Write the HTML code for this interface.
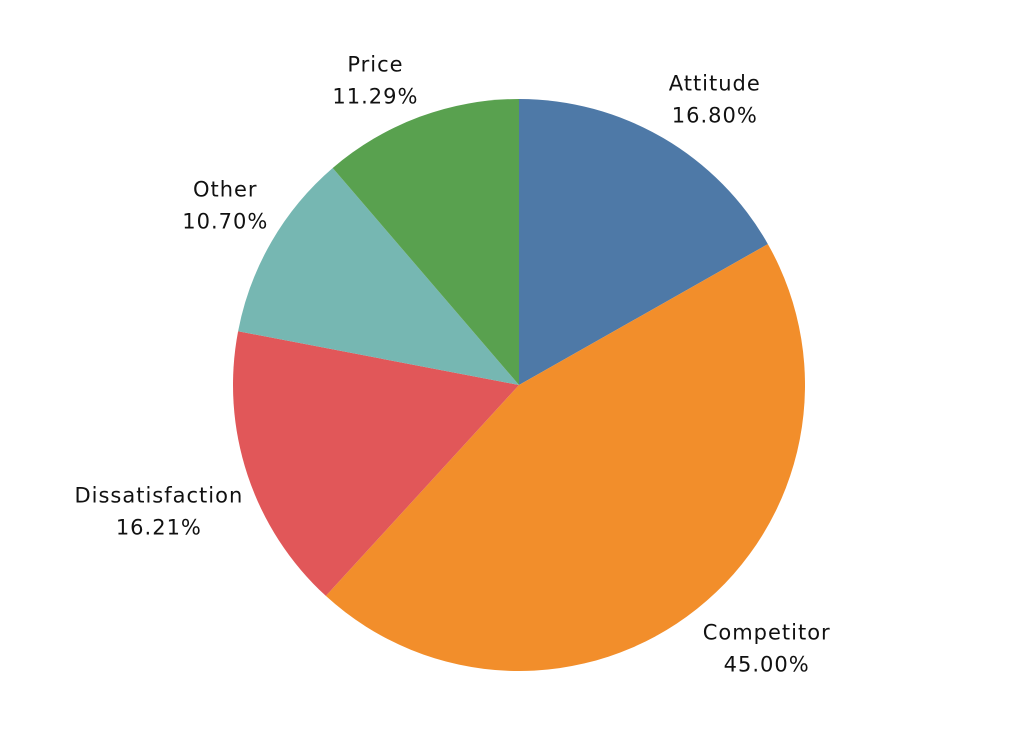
<!DOCTYPE html>
<html><head><meta charset="utf-8"><style>
body{margin:0;background:#fff;width:1012px;height:730px;overflow:hidden}
text{font-family:"DejaVu Sans",sans-serif;font-size:21px;letter-spacing:1px;fill:#111}
</style></head><body>
<svg width="1012" height="730">
<g id="slices"></g><g id="labels"></g>
</svg>
<script>
const categories=["Attitude","Competitor","Dissatisfaction","Other","Price"];
const values=[16.80,45.00,16.21,10.70,11.29];
const colors=["#4e79a7","#f28e2b","#e15759","#76b7b2","#59a14f"];
const nudgeX=[5,7,25,24,-16];
const nudgeY=[7,-17,9,-13,14];
const cx=519,cy=385,R=286;
const total=values.reduce((a,b)=>a+b,0);
const ns="http://www.w3.org/2000/svg";
const gs=document.getElementById('slices'),gl=document.getElementById('labels');
function pt(a,r){return [cx+Math.sin(a)*r,cy-Math.cos(a)*r];}
let acc=0;
values.forEach((v,i)=>{
  const a0=acc/total*2*Math.PI;acc+=v;const a1=acc/total*2*Math.PI;
  const p0=pt(a0,R),p1=pt(a1,R);
  const p=document.createElementNS(ns,'path');
  p.setAttribute('d',`M${cx},${cy}L${p0[0]},${p0[1]}A${R},${R} 0 ${a1-a0>Math.PI?1:0} 1 ${p1[0]},${p1[1]}Z`);
  p.setAttribute('fill',colors[i]);
  
  
  gs.appendChild(p);
  const am=(a0+a1)/2;const lp=pt(am,R+62);
  const tw=categories[i].length*11;
  const x=lp[0]+Math.sin(am)*tw*0.35+nudgeX[i], y=lp[1]+8+nudgeY[i];
  const t=document.createElementNS(ns,'text');
  t.setAttribute('x',x);t.setAttribute('y',y-16+7);t.setAttribute('text-anchor','middle');
  
  
  t.textContent=categories[i];
  gl.appendChild(t);
  const t2=document.createElementNS(ns,'text');
  t2.setAttribute('x',x);t2.setAttribute('y',y+16+7);t2.setAttribute('text-anchor','middle');
  
  
  t2.textContent=v.toFixed(2)+'%';
  gl.appendChild(t2);
});
</script>
</body></html>
